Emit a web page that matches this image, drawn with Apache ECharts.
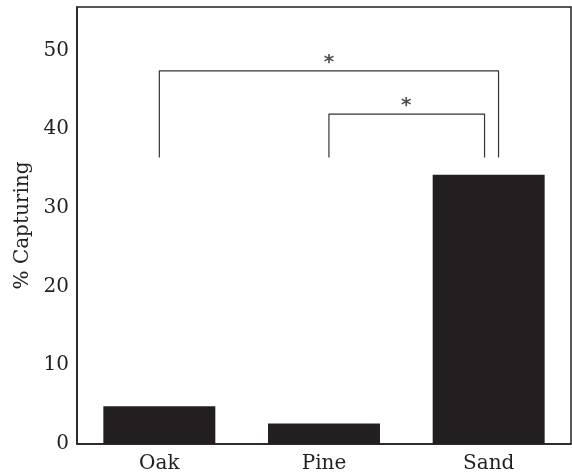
<!DOCTYPE html>
<html><head><meta charset="utf-8">
<script src="https://cdn.jsdelivr.net/npm/echarts@6/dist/echarts.min.js"></script>
<style>html,body{margin:0;padding:0;background:#fff}#c{width:572px;height:475px}</style>
</head><body><div id="c"></div>
<script>
const categories = ['Oak', 'Pine', 'Sand'];
const values = [4.8, 2.6, 34.2];
const yTicks = [0, 10, 20, 30, 40, 50];
// significance brackets as [position, value] corner points
const bracketBig = [[0.0, 36.4], [0.0, 47.4], [2.06, 47.4], [2.06, 36.4]];
const bracketSmall = [[1.03, 36.4], [1.03, 41.9], [1.975, 41.9], [1.975, 36.4]];
const stars = [[1.03, 48.4, '*'], [1.5, 42.9, '*']];

const font = 'DejaVu Serif';
const ink = '#231f20';
const chart = echarts.init(document.getElementById('c'));
chart.setOption({
  animation: false,
  grid: {left: 77, right: 1, top: 7, bottom: 31, show: true, borderColor: ink, borderWidth: 1.5},
  xAxis: [{
    type: 'category', data: categories,
    axisLine: {show: true, onZero: false, lineStyle: {color: ink, width: 1.5}},
    axisTick: {show: false},
    axisLabel: {color: ink, fontFamily: font, fontSize: 20, margin: 10}
  }, {
    type: 'value', min: -0.5, max: 2.5, show: false
  }],
  yAxis: {
    type: 'value', min: 0, max: 55.5, interval: 10,
    name: '% Capturing', nameLocation: 'middle', nameGap: 40,
    nameTextStyle: {color: ink, fontFamily: font, fontSize: 20},
    splitLine: {show: false},
    axisLine: {show: true, onZero: false, lineStyle: {color: ink, width: 1.5}},
    axisTick: {show: false},
    axisLabel: {color: ink, fontFamily: font, fontSize: 20, margin: 8, showMaxLabel: false,
      formatter: v => yTicks.includes(v) ? String(v) : ''}
  },
  series: [{
    type: 'bar', data: values, barCategoryGap: '32%',
    itemStyle: {color: ink}
  }, {
    type: 'line', xAxisIndex: 1, data: bracketBig, symbol: 'none',
    lineStyle: {color: '#333', width: 1.2}
  }, {
    type: 'line', xAxisIndex: 1, data: bracketSmall, symbol: 'none',
    lineStyle: {color: '#333', width: 1.2}
  }, {
    type: 'scatter', xAxisIndex: 1, symbolSize: 0,
    data: stars.map(s => ({value: [s[0], s[1]], name: s[2]})),
    label: {show: true, position: 'inside', formatter: p => p.name,
      color: ink, fontFamily: 'DejaVu Sans', fontSize: 20, fontWeight: 'bold'}
  }]
});
</script></body></html>
